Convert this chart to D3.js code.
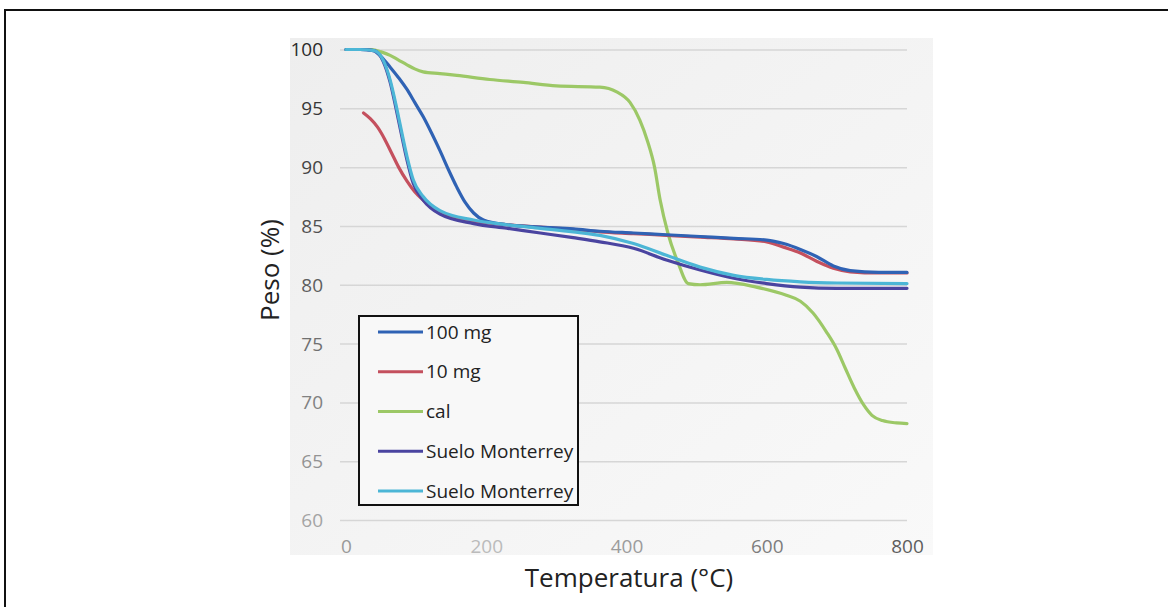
<!DOCTYPE html>
<html>
<head>
<meta charset="utf-8">
<script src="https://cdn.jsdelivr.net/npm/d3@7"></script>
<style>
  html, body { margin: 0; padding: 0; background: #fff; }
  svg { display: block; font-family: "Open Sans", "Noto Sans", sans-serif; }
</style>
</head>
<body>
<svg id="chart" width="1168" height="607"></svg>
<script>
// Thermogravimetric curves: weight (%) against temperature (°C)
const xTicks = [0, 200, 400, 600, 800];
const yTicks = [60, 65, 70, 75, 80, 85, 90, 95, 100];

const seriesNames = ["100 mg", "10 mg", "cal", "Suelo Monterrey", "Suelo Monterrey"];

const temp100mg = [0, 20, 39, 50, 63, 75, 87, 98, 110, 122, 134, 146, 158, 170, 182, 196, 229, 277, 324, 362, 410, 457, 505, 553, 600, 624, 648, 671, 695, 719, 760, 800];
const peso100mg = [100, 100, 99.9, 99.4, 98.5, 97.6, 96.6, 95.5, 94.3, 92.9, 91.4, 89.8, 88.3, 87.0, 86.1, 85.5, 85.1, 84.9, 84.75, 84.55, 84.4, 84.25, 84.1, 83.95, 83.8, 83.5, 83.0, 82.4, 81.6, 81.2, 81.05, 81.05];

const temp10mg = [25, 35, 45, 55, 65, 75, 87, 98, 110, 122, 134, 158, 182, 229, 277, 324, 362, 410, 457, 505, 553, 600, 624, 648, 671, 695, 719, 760, 800];
const peso10mg = [94.6, 94.1, 93.4, 92.4, 91.2, 90.0, 88.8, 87.9, 87.2, 86.6, 86.2, 85.7, 85.4, 85.1, 84.9, 84.7, 84.5, 84.35, 84.2, 84.05, 83.9, 83.65, 83.2, 82.7, 82.0, 81.4, 81.1, 81.0, 81.0];

const tempCal = [0, 20, 37, 50, 63, 75, 87, 98, 110, 134, 158, 205, 253, 300, 362, 386, 405, 419, 430, 440, 448, 459, 474, 488, 505, 543, 585, 628, 648, 666, 685, 700, 712, 725, 738, 750, 765, 785, 800];
const pesoCal = [100, 100, 100, 99.8, 99.5, 99.1, 98.7, 98.35, 98.1, 97.95, 97.8, 97.45, 97.2, 96.9, 96.8, 96.4, 95.5, 94.0, 92.2, 90.0, 87.2, 84.4, 81.8, 80.1, 80.0, 80.2, 79.8, 79.1, 78.6, 77.6, 76.0, 74.5, 72.9, 71.2, 69.8, 68.9, 68.45, 68.25, 68.2];

const tempSueloA = [0, 20, 40, 53, 63, 72, 79, 87, 96, 110, 134, 182, 229, 277, 324, 362, 410, 457, 505, 553, 600, 648, 700, 800];
const pesoSueloA = [100, 100, 99.9, 99.0, 97.2, 94.8, 92.8, 90.6, 88.6, 87.2, 86.0, 85.2, 84.8, 84.4, 84.0, 83.65, 83.1, 82.1, 81.25, 80.55, 80.1, 79.8, 79.7, 79.7];

const tempSueloB = [0, 20, 40, 53, 63, 72, 79, 87, 96, 110, 134, 182, 229, 277, 324, 362, 410, 457, 505, 553, 600, 648, 700, 800];
const pesoSueloB = [100, 100, 99.9, 99.1, 97.4, 95.1, 93.1, 90.9, 88.9, 87.5, 86.3, 85.5, 85.1, 84.8, 84.5, 84.2, 83.5, 82.5, 81.5, 80.8, 80.45, 80.25, 80.15, 80.1];

const seriesTemps = [temp100mg, temp10mg, tempCal, tempSueloA, tempSueloB];
const seriesPesos = [peso100mg, peso10mg, pesoCal, pesoSueloA, pesoSueloB];
const seriesColors = ["#2f62b4", "#c4505e", "#9cc866", "#4a44a0", "#4cb6d6"];

const series = seriesNames.map((name, i) => ({
  name,
  color: seriesColors[i],
  points: seriesTemps[i].map((t, j) => ({ t, p: seriesPesos[i][j] }))
}));

const svg = d3.select("#chart");

// outer frame
svg.append("rect")
  .attr("x", 5).attr("y", 10)
  .attr("width", 1200).attr("height", 640)
  .attr("fill", "none").attr("stroke", "#111").attr("stroke-width", 2);

// chart area background
const grad = svg.append("defs").append("linearGradient")
  .attr("id", "bg").attr("x1", "0").attr("y1", "0").attr("x2", "1").attr("y2", "1");
grad.append("stop").attr("offset", "0").attr("stop-color", "#eeeeee");
grad.append("stop").attr("offset", "1").attr("stop-color", "#f9f9f9");
svg.append("rect")
  .attr("x", 290).attr("y", 38)
  .attr("width", 643).attr("height", 517)
  .attr("fill", "url(#bg)");

const x = d3.scaleLinear().domain([0, 800]).range([346, 907]);
const y = d3.scaleLinear().domain([60, 100]).range([520, 49.5]);

// horizontal gridlines
const grid = d3.axisLeft(y).tickValues(yTicks).tickSize(-(907 - 340)).tickFormat("");
svg.append("g")
  .attr("transform", "translate(340,0)")
  .call(grid)
  .call(g => g.select(".domain").remove())
  .call(g => g.selectAll("line").attr("stroke", "#d6d6d6").attr("stroke-width", 1.5));

// y tick labels
const yColor = d3.scaleLinear().domain([100, 80, 60]).range(["#2a2a2a", "#5e5e5e", "#a4a4a4"]);
const yAxis = d3.axisLeft(y).tickValues(yTicks).tickSize(0).tickPadding(0);
svg.append("g")
  .attr("transform", "translate(323,0)")
  .call(yAxis)
  .call(g => g.select(".domain").remove())
  .call(g => g.selectAll("text")
    .attr("font-family", "'Open Sans', sans-serif")
    .attr("font-size", 19)
    .attr("dy", "0.34em")
    .attr("fill", d => yColor(d)));

// x tick labels
const xColor = d3.scaleLinear().domain([0, 200, 800]).range(["#999", "#bbb", "#5e5e5e"]);
const xAxis = d3.axisBottom(x).tickValues(xTicks).tickSize(0).tickPadding(0);
svg.append("g")
  .attr("transform", "translate(0,539)")
  .call(xAxis)
  .call(g => g.select(".domain").remove())
  .call(g => g.selectAll("text")
    .attr("font-family", "'Open Sans', sans-serif")
    .attr("font-size", 19)
    .attr("dy", "0.71em")
    .attr("fill", d => xColor(d)));

// curves
const line = d3.line()
  .x(d => x(d.t))
  .y(d => y(d.p))
  .curve(d3.curveMonotoneX);

// draw in an order so the later-drawn curves sit on top
const drawOrder = [2, 1, 0, 3, 4];
svg.append("g")
  .selectAll("path")
  .data(drawOrder.map(i => series[i]))
  .join("path")
  .attr("d", d => line(d.points))
  .attr("fill", "none")
  .attr("stroke", d => d.color)
  .attr("stroke-width", 3.2)
  .attr("stroke-linejoin", "round")
  .attr("stroke-linecap", "round");

// axis titles
svg.append("text")
  .attr("x", 629).attr("y", 587)
  .attr("text-anchor", "middle")
  .attr("font-size", 26)
  .attr("fill", "#222")
  .text("Temperatura (°C)");

svg.append("text")
  .attr("transform", "translate(279,270) rotate(-90)")
  .attr("text-anchor", "middle")
  .attr("font-size", 26)
  .attr("fill", "#222")
  .text("Peso (%)");

// legend
const legend = svg.append("g");
legend.append("rect")
  .attr("x", 359).attr("y", 316)
  .attr("width", 219).attr("height", 189)
  .attr("fill", "#f8f8f8")
  .attr("stroke", "#111").attr("stroke-width", 2);

const rowY = d3.scalePoint().domain(d3.range(series.length)).range([332, 491]);
const rows = legend.selectAll("g.row")
  .data(series)
  .join("g")
  .attr("class", "row")
  .attr("transform", (d, i) => `translate(0,${rowY(i)})`);
rows.append("line")
  .attr("x1", 378).attr("x2", 423)
  .attr("stroke", d => d.color)
  .attr("stroke-width", 3.2);
rows.append("text")
  .attr("x", 426)
  .attr("dy", "0.35em")
  .attr("font-size", 19)
  .attr("fill", "#222")
  .text(d => d.name);
</script>
</body>
</html>
